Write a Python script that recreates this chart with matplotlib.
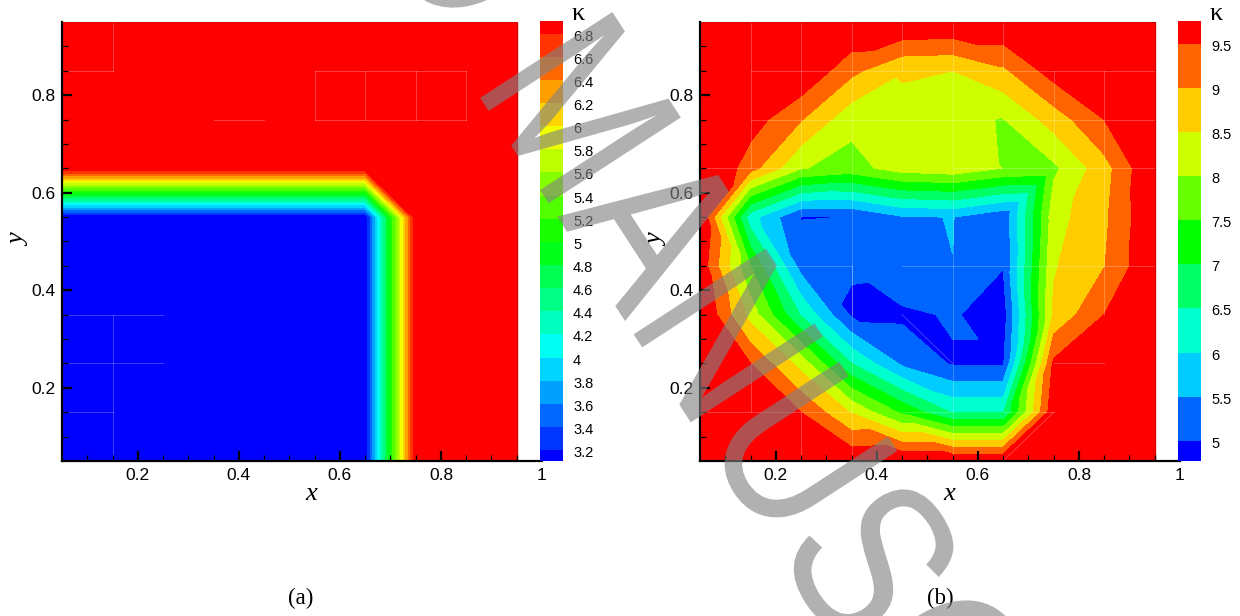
import numpy as np
import matplotlib
matplotlib.use("Agg")
import matplotlib.pyplot as plt
import matplotlib.tri as mtri
from matplotlib.colors import LinearSegmentedColormap, ListedColormap, BoundaryNorm
from matplotlib.patheffects import AbstractPathEffect
from matplotlib.transforms import Affine2D, ScaledTranslation

# ---------- data ----------
grid_x = [0.05, 0.15, 0.25, 0.35, 0.45, 0.55, 0.65, 0.75, 0.85, 0.95]
grid_y = [0.05, 0.15, 0.25, 0.35, 0.45, 0.55, 0.65, 0.75, 0.85, 0.95]

kappa_a = [
    [3, 3, 3, 3, 3, 3, 3, 7, 7, 7],
    [3, 3, 3, 3, 3, 3, 3, 7, 7, 7],
    [3, 3, 3, 3, 3, 3, 3, 7, 7, 7],
    [3, 3, 3, 3, 3, 3, 3, 7, 7, 7],
    [3, 3, 3, 3, 3, 3, 3, 7, 7, 7],
    [3, 3, 3, 3, 3, 3, 3, 7, 7, 7],
    [7, 7, 7, 7, 7, 7, 7, 7, 7, 7],
    [7, 7, 7, 7, 7, 7, 7, 7, 7, 7],
    [7, 7, 7, 7, 7, 7, 7, 7, 7, 7],
    [7, 7, 7, 7, 7, 7, 7, 7, 7, 7],
]
kappa_b = [
    [10.3, 10.3, 10.2, 9.92, 10.0, 10.0, 10.0, 10.3, 10.3, 10.3],
    [10.3, 10.2, 9.5, 8.45, 7.4, 6.45, 6.45, 9.9, 10.3, 10.3],
    [10.3, 9.5, 8.3, 6.5, 5.41, 4.95, 4.95, 9.6, 10.1, 10.3],
    [10.1, 8.3, 6.45, 4.92, 4.9, 5.05, 4.75, 8.6, 9.5, 10.3],
    [9.85, 7.5, 5.3, 5.05, 5.45, 5.496, 5.02, 8.45, 8.98, 10.0],
    [10.05, 6.2, 4.98, 5.005, 5.45, 5.512, 5.1, 8.3, 8.9, 10.0],
    [10.3, 9.2, 8.03, 7.81, 8.23, 8.34, 7.99, 7.9, 8.8, 10.05],
    [10.3, 9.75, 9.03, 8.15, 8.35, 8.1, 7.98, 8.72, 9.5, 10.2],
    [10.3, 10.2, 10.0, 9.13, 8.55, 8.5, 8.9, 9.74, 10.2, 10.3],
    [10.3, 10.3, 10.2, 10.05, 10.04, 10.0, 10.0, 10.3, 10.3, 10.3],
]
# grid cells (column, row) of panel (b) split along the other diagonal
flipped_cells_b = [(6, 5), (2, 4)]
levels_a = [3.2, 3.4, 3.6, 3.8, 4, 4.2, 4.4, 4.6, 4.8, 5, 5.2, 5.4, 5.6, 5.8, 6, 6.2, 6.4, 6.6, 6.8]
labels_a = ["3.2", "3.4", "3.6", "3.8", "4", "4.2", "4.4", "4.6", "4.8", "5", "5.2", "5.4", "5.6",
            "5.8", "6", "6.2", "6.4", "6.6", "6.8"]
levels_b = [5, 5.5, 6, 6.5, 7, 7.5, 8, 8.5, 9, 9.5]
labels_b = ["5", "5.5", "6", "6.5", "7", "7.5", "8", "8.5", "9", "9.5"]
bar_range_a = (3.105, 6.91)
bar_range_b = (4.77, 9.76)
xticks = [0.2, 0.4, 0.6, 0.8, 1.0]
xticklabels = ["0.2", "0.4", "0.6", "0.8", "1"]
yticks = [0.2, 0.4, 0.6, 0.8]
yticklabels = ["0.2", "0.4", "0.6", "0.8"]
rainbow = ["#0000ff", "#00ffff", "#00ff00", "#ffff00", "#ff0000"]

# faint mesh fragments: (x0, y0, x1, y1)
mesh_a = [(0.15, 0.95, 0.15, 0.85), (0.05, 0.85, 0.15, 0.85), (0.35, 0.75, 0.45, 0.75),
          (0.55, 0.85, 0.85, 0.85), (0.55, 0.75, 0.85, 0.75), (0.55, 0.75, 0.55, 0.85),
          (0.65, 0.75, 0.65, 0.85), (0.75, 0.75, 0.75, 0.85), (0.85, 0.75, 0.85, 0.85),
          (0.05, 0.35, 0.25, 0.35), (0.05, 0.25, 0.25, 0.25), (0.05, 0.15, 0.15, 0.15),
          (0.15, 0.05, 0.15, 0.35)]
mesh_b = [(0.15, 0.95, 0.15, 0.65), (0.25, 0.95, 0.25, 0.55), (0.35, 0.95, 0.35, 0.05),
          (0.45, 0.95, 0.45, 0.85), (0.55, 0.95, 0.55, 0.05), (0.65, 0.95, 0.65, 0.85),
          (0.75, 0.85, 0.75, 0.65), (0.85, 0.85, 0.85, 0.35), (0.15, 0.85, 0.95, 0.85),
          (0.15, 0.75, 0.95, 0.75), (0.55, 0.65, 0.95, 0.65), (0.05, 0.65, 0.25, 0.65),
          (0.05, 0.45, 0.35, 0.45), (0.45, 0.45, 0.95, 0.45), (0.35, 0.35, 0.35, 0.45),
          (0.45, 0.15, 0.55, 0.15), (0.05, 0.15, 0.35, 0.15), (0.15, 0.15, 0.15, 0.25),
          (0.75, 0.25, 0.85, 0.25), (0.65, 0.05, 0.75, 0.15), (0.45, 0.35, 0.55, 0.25),
          (0.65, 0.15, 0.75, 0.15), (0.25, 0.05, 0.25, 0.15)]

# ---------- style ----------
W, H = 1240, 616
sans = ["Liberation Sans", "DejaVu Sans"]
serif = ["Liberation Serif", "DejaVu Serif"]
plt.rcParams["font.family"] = sans
fig = plt.figure(figsize=(W / 100, H / 100), dpi=100)


def px_axes(x0, y0, x1, y1, **kw):
    return fig.add_axes([x0 / W, 1 - y1 / H, (x1 - x0) / W, (y1 - y0) / H], **kw)


base = LinearSegmentedColormap.from_list("tec", rainbow)


def cell_triangles(xs, ys, Z, flipped):
    """Split each grid cell along the diagonal whose two corners are closest in value."""
    nx = len(xs)
    flat = np.asarray(Z, float).ravel()
    tris = []
    for j in range(len(ys) - 1):
        for i in range(nx - 1):
            a = j * nx + i
            b = a + 1
            c = a + nx
            d = c + 1
            first = abs(flat[b] - flat[c]) <= abs(flat[a] - flat[d])
            if (i, j) in flipped:
                first = not first
            if first:
                tris += [[a, b, c], [b, d, c]]
            else:
                tris += [[a, b, d], [a, d, c]]
    return tris


def panel(x0, bar_x0, Z, levels, labels, bar_range, mesh, flipped=()):
    ax = px_axes(x0, 22, x0 + 480, 461)
    n = len(levels) + 1
    cmap = ListedColormap([base(i / (n - 1)) for i in range(n)])
    edges = [-100] + list(levels) + [100]
    norm = BoundaryNorm(edges, n)
    X, Y = np.meshgrid(grid_x, grid_y)
    tri = mtri.Triangulation(X.ravel(), Y.ravel(), cell_triangles(grid_x, grid_y, Z, flipped))
    ax.tricontourf(tri, np.array(Z, float).ravel(), levels=edges, cmap=cmap, norm=norm,
                   antialiased=False, zorder=1)
    for (a, b, c, d) in mesh:
        ax.plot([a, c], [b, d], color="white", alpha=0.25, lw=0.7, zorder=2)
    ax.plot([0.05, 0.95, 0.95], [0.95, 0.95, 0.05], color="#d80000", lw=1.0, zorder=2)
    ax.set_xlim(0.05, 1.0)
    ax.set_ylim(0.05, 0.95)
    for s in ("top", "right"):
        ax.spines[s].set_visible(False)
    for s in ("left", "bottom"):
        ax.spines[s].set_linewidth(1.6)
        ax.spines[s].set_zorder(5)
    ax.set_xticks(xticks)
    ax.set_xticklabels(xticklabels)
    ax.set_yticks(yticks)
    ax.set_yticklabels(yticklabels)
    ax.set_xticks([v for v in np.arange(0.1, 0.99, 0.05)], minor=True)
    ax.set_yticks([v for v in np.arange(0.1, 0.94, 0.05)], minor=True)
    ax.tick_params(which="major", direction="in", length=7.5, width=1.6, labelsize=12.5, pad=5)
    ax.tick_params(which="minor", direction="in", length=4.5, width=0.9)
    ax.set_axisbelow(False)
    fig.text((x0 + 249) / W, 1 - 494 / H, "x", family=serif, style="italic", fontsize=19,
             ha="center", va="center")
    fig.text((x0 - 43) / W, 1 - 240 / H, "y", family=serif, style="italic", fontsize=19,
             rotation=90, ha="center", va="center")

    cax = px_axes(bar_x0, 21, bar_x0 + 23, 461)
    bar_edges = np.array([bar_range[0]] + list(levels) + [bar_range[1]])
    cax.pcolormesh([0, 1], bar_edges, np.arange(n)[:, None] + 0.0,
                   cmap=cmap, vmin=-0.5, vmax=n - 0.5, antialiased=False)
    cax.set_ylim(*bar_range)
    cax.set_xticks([])
    cax.yaxis.tick_right()
    cax.set_yticks(levels)
    cax.set_yticklabels(labels)
    cax.tick_params(axis="y", length=0, labelsize=10.5, pad=7.2)
    for lab in cax.get_yticklabels():
        lab.set_verticalalignment("center")
        lab.set_transform(lab.get_transform() + ScaledTranslation(0, -3 / 100, fig.dpi_scale_trans))
    for s in cax.spines.values():
        s.set_visible(False)
    fig.text((bar_x0 + 38) / W, 1 - 14 / H, "\u03ba", family=serif, fontsize=19, ha="center", va="center")


panel(62, 540, kappa_a, levels_a, labels_a, bar_range_a, mesh_a)
panel(700, 1178, kappa_b, levels_b, labels_b, bar_range_b, mesh_b, flipped_cells_b)

fig.text(301 / W, 1 - 598 / H, "(a)", family=serif, fontsize=16.5, ha="center", va="center")
fig.text(940 / W, 1 - 598 / H, "(b)", family=serif, fontsize=16.5, ha="center", va="center")


# watermark on top of everything; its glyphs are squeezed along the baseline
class Squeeze(AbstractPathEffect):
    def __init__(self, factor):
        super().__init__()
        self.factor = factor

    def draw_path(self, renderer, gc, tpath, affine, rgbFace=None):
        renderer.draw_path(gc, tpath, Affine2D().scale(self.factor, 1) + affine, rgbFace)


wm = fig.text(-114 / W, 1 - (-817) / H, "ACCEPTED MANUSCRIPT", family=sans, fontsize=165,
              color="#828282", alpha=0.62, rotation=-57, rotation_mode="anchor",
              ha="left", va="baseline", zorder=20)
wm.set_path_effects([Squeeze(0.82)])

fig.savefig("out.png", dpi=100)
